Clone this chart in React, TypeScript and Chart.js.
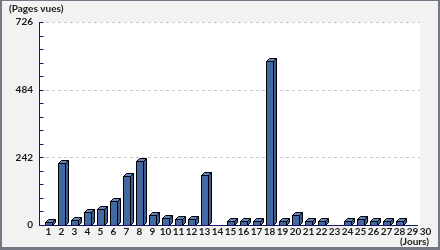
import React, { useEffect, useRef } from "react";
import { Chart, registerables } from "chart.js";

Chart.register(...registerables);

const days = [
  "1", "2", "3", "4", "5", "6", "7", "8", "9", "10",
  "11", "12", "13", "14", "15", "16", "17", "18", "19", "20",
  "21", "22", "23", "24", "25", "26", "27", "28", "29", "30",
];
const pageViews = [
  11, 221, 18, 47, 58, 85, 177, 228, 35, 24,
  22, 22, 180, 0, 13, 13, 13, 585, 13, 35,
  13, 13, 0, 13, 21, 13, 13, 13, 0, 0,
];
const yTickValues = [0, 242, 484, 726];
const yTitle = "(Pages vues)";
const xTitle = "(Jours)";

const FONT_FAMILY = "Lato, 'Liberation Sans Narrow', sans-serif";
const FONT_WEIGHT = "bold";
const TEXT_COLOR = "#1a1a1a";
const AXIS_COLOR = "#14146e";
const FRONT = "#4369a2";
const TOP = "#6286bd";
const SIDE = "#3a5d93";

const artichowPlugin = {
  id: "artichow",
  beforeDraw(chart: any) {
    const { ctx, chartArea: ca, scales } = chart;
    const y = scales.y;
    const right = ca.right - 10;
    ctx.save();
    ctx.fillStyle = "#f2f2f2";
    ctx.fillRect(0, 0, chart.width, chart.height);
    ctx.fillStyle = "#ffffff";
    ctx.fillRect(ca.left, ca.top, right - ca.left, ca.bottom - ca.top);
    ctx.strokeStyle = "#c8c8c8";
    ctx.lineWidth = 1;
    ctx.setLineDash([3, 3]);
    for (const v of yTickValues) {
      if (v === 0) continue;
      const py = Math.round(y.getPixelForValue(v)) + 0.5;
      ctx.beginPath();
      ctx.moveTo(ca.left, py);
      ctx.lineTo(right, py);
      ctx.stroke();
    }
    ctx.restore();
  },
  afterDatasetsDraw(chart: any) {
    const { ctx, chartArea: ca, scales } = chart;
    const y = scales.y;
    const meta = chart.getDatasetMeta(0);
    const base = Math.round(y.getPixelForValue(0)) + 0.5;
    const w = 7;
    const d = 3;
    ctx.save();
    ctx.lineWidth = 1;
    ctx.strokeStyle = "#000000";
    meta.data.forEach((el: any, i: number) => {
      if (!pageViews[i]) return;
      const x0 = Math.round(el.x - 2) + 0.5;
      const top = Math.round(el.y) + 0.5;
      // side
      ctx.beginPath();
      ctx.moveTo(x0 + w, top);
      ctx.lineTo(x0 + w + d, top - d);
      ctx.lineTo(x0 + w + d, base - d);
      ctx.lineTo(x0 + w, base);
      ctx.closePath();
      ctx.fillStyle = SIDE;
      ctx.fill();
      ctx.stroke();
      // top
      ctx.beginPath();
      ctx.moveTo(x0, top);
      ctx.lineTo(x0 + d, top - d);
      ctx.lineTo(x0 + w + d, top - d);
      ctx.lineTo(x0 + w, top);
      ctx.closePath();
      ctx.fillStyle = TOP;
      ctx.fill();
      ctx.stroke();
      // front
      ctx.fillStyle = FRONT;
      ctx.fillRect(x0, top, w, base - top);
      ctx.strokeRect(x0, top, w, base - top);
    });

    // axes
    ctx.strokeStyle = AXIS_COLOR;
    ctx.setLineDash([]);
    const ax = ca.left - 0.5;
    ctx.beginPath();
    ctx.moveTo(ax, ca.top);
    ctx.lineTo(ax, ca.bottom + 0.5);
    ctx.stroke();
    ctx.beginPath();
    ctx.moveTo(ca.left - 1, base);
    ctx.lineTo(ca.right - 12, base);
    ctx.stroke();
    const max = yTickValues[yTickValues.length - 1];
    const minorStep = yTickValues[1] / 5;
    for (let v = 0; v <= max + 0.001; v += minorStep) {
      const py = Math.round(y.getPixelForValue(v)) + 0.5;
      ctx.beginPath();
      ctx.moveTo(ax, py);
      ctx.lineTo(ax + 4, py);
      ctx.stroke();
    }
    ctx.restore();
  },
  afterDraw(chart: any) {
    const { ctx, width, height } = chart;
    ctx.save();
    ctx.fillStyle = TEXT_COLOR;
    ctx.font = `${FONT_WEIGHT} 10px ${FONT_FAMILY}`;
    ctx.textBaseline = "middle";
    ctx.textAlign = "left";
    ctx.fillText(yTitle, 9, 8.5);
    ctx.textAlign = "right";
    ctx.fillText(xTitle, 429, 242);
    ctx.fillStyle = "#757886";
    ctx.fillRect(0, 0, 2, height);
    ctx.fillRect(0, 0, width, 1);
    ctx.fillRect(width - 2, 0, 2, height);
    ctx.fillRect(0, height - 3, width, 3);
    ctx.restore();
  },
};

export default function App() {
  const canvasRef = useRef<HTMLCanvasElement | null>(null);

  useEffect(() => {
    const canvas = canvasRef.current;
    if (!canvas) return;
    const chart = new Chart(canvas, {
      type: "bar",
      data: {
        labels: days,
        datasets: [
          {
            data: pageViews,
            backgroundColor: "rgba(0,0,0,0)",
            borderWidth: 0,
          },
        ],
      },
      options: {
        responsive: false,
        animation: false,
        devicePixelRatio: 1,
        layout: { padding: { left: 0, top: 22, right: 10, bottom: 0 } },
        plugins: {
          legend: { display: false },
          tooltip: { enabled: false },
        },
        scales: {
          x: {
            offset: true,
            grid: { display: false, drawTicks: false },
            border: { display: false },
            ticks: {
              color: TEXT_COLOR,
              font: { family: FONT_FAMILY, size: 10, weight: FONT_WEIGHT },
              padding: 1,
              labelOffset: 2,
              maxRotation: 0,
              autoSkip: false,
            },
            afterFit: (s: any) => {
              s.height = 25;
            },
          },
          y: {
            min: 0,
            max: yTickValues[yTickValues.length - 1],
            afterBuildTicks: (s: any) => {
              s.ticks = yTickValues.map((v) => ({ value: v }));
            },
            grid: { display: false, drawTicks: false },
            border: { display: false },
            ticks: {
              color: TEXT_COLOR,
              font: { family: FONT_FAMILY, size: 10, weight: FONT_WEIGHT },
              padding: 7,
            },
            afterFit: (s: any) => {
              s.width = 40;
            },
          },
        },
      },
      plugins: [artichowPlugin],
    });
    return () => chart.destroy();
  }, []);

  return (
    <div style={{ position: "absolute", left: 0, top: 0, width: 440, height: 250 }}>
      <canvas ref={canvasRef} width={440} height={250} style={{ display: "block" }} />
    </div>
  );
}
